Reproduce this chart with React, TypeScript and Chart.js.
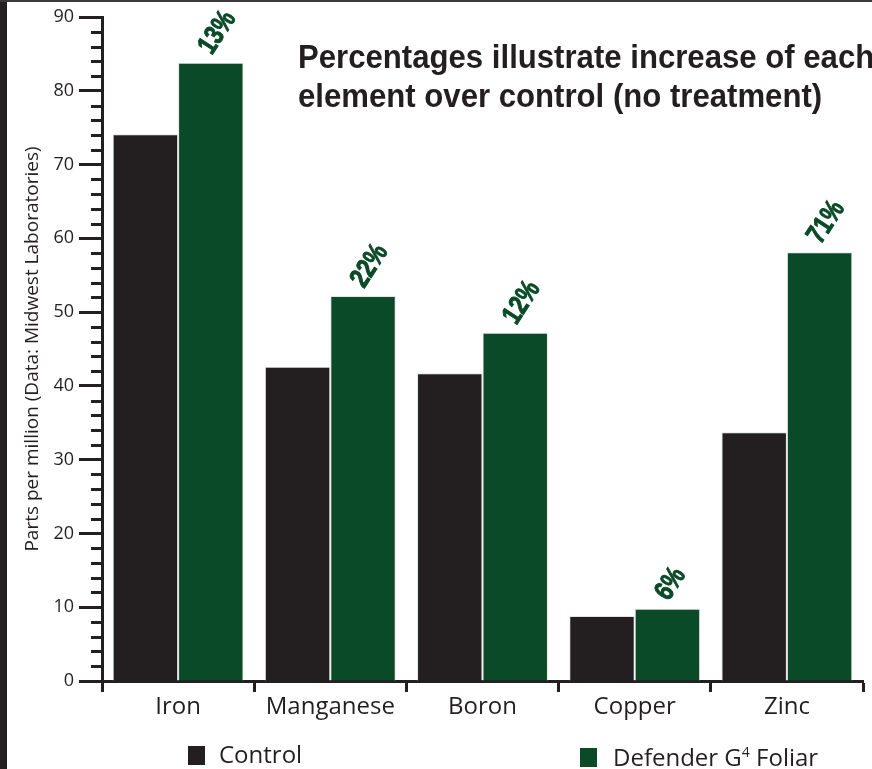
import React, { useEffect, useRef } from "react";
import { Chart, registerables } from "chart.js";

Chart.register(...registerables);

const categories = ["Iron", "Manganese", "Boron", "Copper", "Zinc"];
const controlValues = [74.1, 42.6, 41.7, 8.8, 33.7];
const defenderValues = [83.8, 52.2, 47.2, 9.8, 58.1];
const increaseLabels = ["13%", "22%", "12%", "6%", "71%"];
const yMinorTicks = [2, 4, 6, 8, 12, 14, 16, 18, 22, 24, 26, 28, 32, 34, 36, 38, 42, 44, 46, 48, 52, 54, 56, 58, 62, 64, 66, 68, 72, 74, 76, 78, 82, 84, 86, 88];

const DARK = "#231f20";
const GREEN = "#0b4a28";
const SANS = "'Open Sans', 'Noto Sans', sans-serif";
const BOLD = "'Liberation Sans', 'DejaVu Sans', sans-serif";

const extrasPlugin = {
  id: "extras",
  afterDraw(chart: any) {
    const ctx = chart.ctx;
    const y = chart.scales.y;
    const left = chart.chartArea.left;
    ctx.save();
    ctx.strokeStyle = DARK;
    ctx.lineWidth = 3;
    yMinorTicks.forEach((v) => {
      const py = Math.round(y.getPixelForValue(v)) + 0.5;
      ctx.beginPath();
      ctx.moveTo(left - 11, py);
      ctx.lineTo(left, py);
      ctx.stroke();
    });
    const meta = chart.getDatasetMeta(1);
    ctx.fillStyle = GREEN;
    ctx.strokeStyle = GREEN;
    ctx.lineWidth = 1;
    ctx.font = `bold 28px ${BOLD}`;
    ctx.textAlign = "left";
    ctx.textBaseline = "alphabetic";
    meta.data.forEach((bar: any, i: number) => {
      ctx.save();
      ctx.translate(bar.x + 1, bar.y - 7);
      ctx.rotate((-57 * Math.PI) / 180);
      ctx.scale(0.8, 1);
      ctx.fillText(increaseLabels[i], 0, 0);
      ctx.strokeText(increaseLabels[i], 0, 0);
      ctx.restore();
    });
    ctx.restore();
  },
};

export default function App() {
  const canvasRef = useRef<HTMLCanvasElement | null>(null);
  const titleRef = useRef<HTMLDivElement | null>(null);

  useEffect(() => {
    document.body.style.margin = "0";
    const t = titleRef.current;
    if (t) {
      const w = t.offsetWidth;
      if (w > 0) t.style.transform = `scaleX(${576 / w})`;
    }
    const canvas = canvasRef.current;
    if (!canvas) return;
    const chart = new Chart(canvas, {
      type: "bar",
      data: {
        labels: categories,
        datasets: [
          {
            label: "Control",
            data: controlValues,
            backgroundColor: DARK,
            borderColor: "#e4e4e4",
            borderWidth: 1,
            categoryPercentage: 0.86,
            barPercentage: 1,
          },
          {
            label: "Defender G⁴ Foliar",
            data: defenderValues,
            backgroundColor: GREEN,
            borderColor: "#e4e4e4",
            borderWidth: 1,
            categoryPercentage: 0.86,
            barPercentage: 1,
          },
        ],
      },
      options: {
        animation: false,
        responsive: false,
        maintainAspectRatio: false,
        layout: { padding: { top: 17, right: 9, bottom: 48, left: 0 } },
        plugins: {
          legend: { display: false },
          title: { display: false },
          tooltip: { enabled: false },
        },
        scales: {
          x: {
            afterFit: (scale: any) => {
              scale.height = 40;
            },
            grid: {
              display: true,
              drawOnChartArea: false,
              drawTicks: true,
              tickLength: 11,
              tickWidth: 3,
              tickColor: DARK,
              offset: true,
            },
            border: { display: true, width: 3, color: DARK },
            ticks: {
              color: DARK,
              font: { family: SANS, size: 24 },
              padding: 1,
            },
          },
          y: {
            min: 0,
            max: 90,
            afterFit: (scale: any) => {
              scale.width = 102;
            },
            grid: {
              display: true,
              drawOnChartArea: false,
              drawTicks: true,
              tickLength: 23,
              tickWidth: 3,
              tickColor: DARK,
            },
            border: { display: true, width: 3, color: DARK },
            ticks: {
              stepSize: 10,
              color: DARK,
              font: { family: SANS, size: 18 },
              padding: 5,
            },
            title: {
              display: true,
              text: "Parts per million (Data: Midwest Laboratories)",
              color: DARK,
              font: { family: SANS, size: 19 },
              padding: { top: 21, bottom: 0 },
            },
          },
        },
      },
      plugins: [extrasPlugin],
    });
    return () => chart.destroy();
  }, []);

  const legendText: React.CSSProperties = {
    position: "absolute",
    fontFamily: SANS,
    fontSize: 24,
    color: DARK,
    whiteSpace: "nowrap",
    lineHeight: "28px",
  };

  return (
    <div
      style={{
        position: "relative",
        width: 872,
        height: 769,
        background: "#ffffff",
        overflow: "hidden",
      }}
    >
      <canvas
        ref={canvasRef}
        width={872}
        height={769}
        style={{ position: "absolute", left: 0, top: 0, width: 872, height: 769 }}
      />
      <div style={{ position: "absolute", left: 0, top: 0, width: 7, height: 769, background: DARK }} />
      <div style={{ position: "absolute", left: 0, top: 0, width: 872, height: 2, background: "#3a3a3a" }} />
      <div
        ref={titleRef}
        style={{
          position: "absolute",
          left: 298,
          top: 37,
          fontFamily: BOLD,
          fontWeight: "bold",
          fontSize: 34,
          lineHeight: "39px",
          color: DARK,
          whiteSpace: "nowrap",
          transformOrigin: "left top",
        }}
      >
        Percentages illustrate increase of each
        <br />
        element over control (no treatment)
      </div>
      <div style={{ position: "absolute", left: 188, top: 746, width: 17, height: 19, background: DARK }} />
      <div style={{ ...legendText, left: 219, top: 740 }}>Control</div>
      <div style={{ position: "absolute", left: 580, top: 748, width: 17, height: 19, background: GREEN }} />
      <div style={{ ...legendText, left: 613, top: 743 }}>
        Defender G<sup style={{ fontSize: 14, verticalAlign: "top", lineHeight: "18px" }}>4</sup> Foliar
      </div>
    </div>
  );
}
